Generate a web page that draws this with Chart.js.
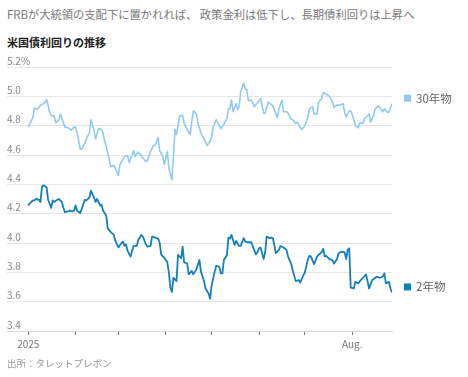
<!DOCTYPE html>
<html lang="ja">
<head>
<meta charset="utf-8">
<script src="https://cdn.jsdelivr.net/npm/chart.js@4.4.1/dist/chart.umd.min.js"></script>
<style>
  html, body { margin: 0; padding: 0; background: #fff; }
  body { width: 468px; height: 377px; position: relative; overflow: hidden; font-family: "Noto Sans CJK JP", sans-serif; }
  #chart { position: absolute; left: 0; top: 0; }
  .title { position: absolute; left: 7px; top: 7px; font-size: 11.3px; line-height: 14px; color: #777; white-space: nowrap; }
  .subtitle { position: absolute; left: 7px; top: 35px; font-size: 11px; line-height: 14px; font-weight: bold; color: #222; white-space: nowrap; }
  .source { position: absolute; left: 7px; top: 357px; font-size: 9.5px; line-height: 12px; color: #999; white-space: nowrap; }
</style>
</head>
<body>
<div class="title">FRBが大統領の支配下に置かれれば、 政策金利は低下し、長期債利回りは上昇へ</div>
<div class="subtitle">米国債利回りの推移</div>
<canvas id="chart" width="468" height="377"></canvas>
<div class="source">出所：タレットプレボン</div>
<script>
// days counted from Jan 1, 2025 (trading days)
const days30 = [
  0, 1, 3, 4, 6, 8, 10, 11, 12, 14, 15, 17, 18, 20, 21, 22, 24, 25, 27, 28,
  30, 31, 32, 34, 35, 37, 38, 40, 41, 43, 44, 46, 48, 49, 50, 51, 53, 54, 56, 57,
  59, 60, 62, 63, 65, 66, 68, 69, 70, 72, 74, 75, 77, 78, 80, 82, 83, 85, 86, 88,
  89, 91, 92, 94, 95, 96, 97, 99, 101, 102, 104, 106, 107, 108, 110, 111, 113, 115, 117, 119,
  120, 121, 123, 125, 126, 128, 130, 131, 132, 133, 134, 136, 137, 138, 139, 141, 142, 143, 144, 146,
  148, 149, 151, 152, 154, 155, 157, 159, 160, 163, 164, 166, 167, 169, 170, 172, 173, 175, 176, 178,
  179, 181, 183, 184, 186, 187, 189, 190, 192, 193, 195, 197, 199, 200, 202, 204, 206, 207, 208, 210,
  211, 213, 214, 216, 217, 219, 220, 221, 223, 224, 226, 227, 229, 231, 232, 233, 235, 236, 238
];
const yield30 = [
  4.79, 4.81, 4.855, 4.92, 4.91, 4.94, 4.95, 4.96, 4.98, 4.89, 4.87, 4.865, 4.82, 4.84, 4.88, 4.85, 4.79, 4.79, 4.78, 4.77,
  4.79, 4.79, 4.75, 4.64, 4.64, 4.68, 4.71, 4.75, 4.84, 4.77, 4.71, 4.78, 4.775, 4.745, 4.695, 4.66, 4.57, 4.52, 4.53, 4.51,
  4.46, 4.535, 4.57, 4.59, 4.595, 4.55, 4.60, 4.63, 4.59, 4.62, 4.595, 4.58, 4.555, 4.56, 4.625, 4.665, 4.665, 4.72, 4.63, 4.59,
  4.535, 4.625, 4.51, 4.43, 4.59, 4.775, 4.74, 4.866, 4.87, 4.815, 4.775, 4.74, 4.83, 4.90, 4.88, 4.82, 4.75, 4.71, 4.665, 4.695,
  4.725, 4.79, 4.84, 4.80, 4.78, 4.81, 4.85, 4.915, 4.915, 4.975, 4.895, 4.95, 4.91, 4.935, 5.03, 5.09, 5.05, 5.045, 4.97, 4.975,
  4.93, 4.945, 4.97, 4.985, 4.885, 4.885, 4.96, 4.945, 4.935, 4.855, 4.915, 4.975, 4.895, 4.895, 4.885, 4.845, 4.84, 4.815, 4.825, 4.786,
  4.775, 4.80, 4.86, 4.915, 4.93, 4.88, 4.88, 4.96, 4.985, 5.025, 5.015, 5.0, 4.96, 4.925, 4.94, 4.94, 4.95, 4.89, 4.86, 4.90,
  4.90, 4.845, 4.80, 4.786, 4.82, 4.815, 4.85, 4.855, 4.88, 4.825, 4.87, 4.915, 4.935, 4.91, 4.895, 4.915, 4.89, 4.895, 4.95
];
const days2 = [
  0, 1, 3, 4, 5, 7, 8, 9, 10, 12, 13, 15, 16, 17, 19, 20, 22, 23, 24, 26,
  27, 29, 30, 31, 32, 34, 35, 37, 38, 40, 41, 43, 44, 45, 47, 48, 49, 51, 52, 54,
  56, 57, 59, 61, 62, 63, 64, 65, 67, 68, 69, 71, 72, 74, 75, 77, 78, 80, 81, 83,
  85, 86, 87, 89, 90, 91, 92, 93, 94, 95, 97, 98, 100, 101, 102, 104, 105, 107, 108, 110,
  112, 113, 115, 116, 118, 119, 120, 122, 123, 125, 126, 127, 128, 130, 131, 132, 133, 135, 136, 138,
  139, 141, 142, 144, 146, 147, 149, 150, 151, 152, 154, 155, 156, 158, 159, 160, 161, 162, 164, 165,
  167, 169, 170, 172, 173, 175, 177, 178, 180, 181, 183, 184, 185, 187, 189, 190, 192, 193, 194, 195,
  197, 199, 200, 202, 203, 205, 207, 208, 209, 210, 211, 213, 214, 216, 217, 219, 221, 222, 223, 225,
  227, 228, 230, 232, 233, 234, 236, 237, 238
];
const yield2 = [
  4.256, 4.27, 4.29, 4.29, 4.30, 4.295, 4.28, 4.386, 4.393, 4.38, 4.295, 4.24, 4.29, 4.28, 4.295, 4.30, 4.28, 4.24, 4.21, 4.215,
  4.22, 4.215, 4.22, 4.256, 4.22, 4.204, 4.233, 4.295, 4.29, 4.31, 4.357, 4.31, 4.28, 4.30, 4.256, 4.26, 4.22, 4.188, 4.10, 4.074,
  4.055, 4.014, 3.97, 4.0, 4.01, 3.98, 3.99, 3.946, 3.907, 3.95, 3.98, 3.98, 4.02, 4.055, 4.044, 3.99, 3.975, 3.98, 4.044, 4.037,
  4.03, 4.0, 3.92, 3.90, 3.884, 3.868, 3.80, 3.695, 3.667, 3.763, 3.74, 3.92, 3.896, 3.975, 3.868, 3.86, 3.786, 3.81, 3.786, 3.82,
  3.884, 3.805, 3.74, 3.69, 3.656, 3.62, 3.713, 3.805, 3.845, 3.838, 3.793, 3.793, 3.884, 3.918, 4.037, 4.03, 4.055, 3.987, 4.014, 3.98,
  3.98, 4.033, 4.01, 4.005, 4.005, 3.975, 3.923, 3.937, 3.964, 3.969, 3.89, 3.937, 4.044, 4.033, 4.037, 4.033, 3.987, 3.93, 3.953, 3.98,
  3.969, 3.953, 3.907, 3.86, 3.816, 3.74, 3.747, 3.731, 3.78, 3.80, 3.89, 3.913, 3.907, 3.855, 3.907, 3.92, 3.937, 3.96, 3.907, 3.913,
  3.89, 3.884, 3.86, 3.89, 3.93, 3.94, 3.937, 3.89, 3.953, 3.964, 3.695, 3.69, 3.735, 3.725, 3.74, 3.763, 3.786, 3.74, 3.69, 3.747,
  3.763, 3.77, 3.763, 3.77, 3.793, 3.725, 3.735, 3.69, 3.663
];
// first day of each month Jan..Aug
const monthTicks = [0, 31, 59, 90, 120, 151, 181, 212];
const monthLabels = ['2025', '', '', '', '', '', '', 'Aug.'];

const color30 = '#8fcbef';
const color2 = '#1580b8';

function toPoints(days, values) {
  return days.map((d, i) => ({ x: d, y: values[i] }));
}

// labels at the end of each line
const endLabels = {
  id: 'endLabels',
  afterDatasetsDraw: function (chart) {
    const ctx = chart.ctx;
    const yScale = chart.scales.y;
    chart.data.datasets.forEach(ds => {
      const last = ds.data[ds.data.length - 1];
      const y = yScale.getPixelForValue(last.y) - 5.5;
      const x = chart.chartArea.right + 12;
      ctx.save();
      ctx.fillStyle = ds.borderColor;
      ctx.fillRect(x, y - 3.5, 7, 7);
      ctx.fillStyle = '#666';
      ctx.font = '11.5px "Noto Sans CJK JP"';
      ctx.textBaseline = 'middle';
      ctx.fillText(ds.label, x + 12, y);
      ctx.restore();
    });
  }
};

const ctx = document.getElementById('chart').getContext('2d');
new Chart(ctx, {
  type: 'line',
  data: {
    datasets: [
      { label: '30年物', data: toPoints(days30, yield30), borderColor: color30, borderWidth: 1.6 },
      { label: '2年物', data: toPoints(days2, yield2), borderColor: color2, borderWidth: 1.8 }
    ]
  },
  options: {
    responsive: false,
    animation: false,
    events: [],
    elements: {
      point: { radius: 0 },
      line: { tension: 0, fill: false, borderJoinStyle: 'round' }
    },
    layout: { padding: { top: 67, right: 76, bottom: 0, left: 7 } },
    plugins: {
      legend: { display: false },
      tooltip: { enabled: false }
    },
    scales: {
      x: {
        type: 'linear',
        min: -13.9,
        max: 238,
        afterBuildTicks: function (scale) {
          scale.ticks = monthTicks.map(v => ({ value: v }));
        },
        afterFit: function (scale) {
          scale.height = 46;
        },
        ticks: {
          autoSkip: false,
          maxRotation: 0,
          padding: 3,
          color: '#777',
          font: { family: '"Noto Sans CJK JP"', size: 10 },
          callback: function (value) {
            const i = monthTicks.indexOf(value);
            return i >= 0 ? monthLabels[i] : '';
          }
        },
        grid: { drawOnChartArea: false, drawTicks: true, tickLength: 4, color: '#777' },
        border: { color: '#dcdcdc' }
      },
      y: {
        min: 3.4,
        max: 5.2,
        afterFit: function (scale) {
          scale.width = 0;
        },
        ticks: {
          stepSize: 0.2,
          mirror: true,
          padding: 0,
          labelOffset: -6,
          color: '#888',
          font: { family: '"Noto Sans CJK JP"', size: 10 },
          callback: function (value) {
            return Math.abs(value - 5.2) < 1e-6 ? '5.2%' : value.toFixed(1);
          }
        },
        grid: { color: '#e6e6e6', drawTicks: false },
        border: { display: false }
      }
    }
  },
  plugins: [endLabels]
});
</script>
</body>
</html>
